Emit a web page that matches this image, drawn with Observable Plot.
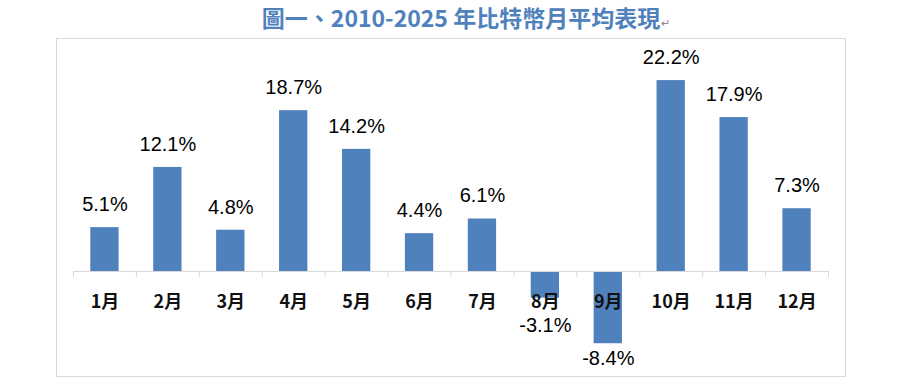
<!DOCTYPE html>
<html>
<head>
<meta charset="utf-8">
<script src="https://cdn.jsdelivr.net/npm/d3@7"></script>
<script src="https://cdn.jsdelivr.net/npm/@observablehq/plot@0.6"></script>
<style>
  html, body { margin: 0; padding: 0; background: #fff; }
  #wrap { position: relative; width: 900px; height: 382px; overflow: hidden; }
  #title { position: absolute; left: 0; top: 3px; width: 868px; padding-left: 32px; text-align: center;
    font-family: "Noto Sans CJK TC", "Liberation Sans", sans-serif; font-weight: bold;
    font-size: 23px; line-height: 28px; color: #4f81bd; white-space: nowrap; }
  #title .ret { font-size: 11px; color: #8a8a8a; font-weight: normal; margin-left: 1px; }
  #frame { position: absolute; left: 56px; top: 38px; width: 788px; height: 337px;
    border: 1px solid #d9d9d9; }
  #chart { position: absolute; left: 0; top: 0; }
</style>
</head>
<body>
<div id="wrap">
  <div id="frame"></div>
  <div id="chart"></div>
  <div id="title">圖一、2010-2025 年比特幣月平均表現<span class="ret">↵</span></div>
</div>
<script>
const months = ["1月","2月","3月","4月","5月","6月","7月","8月","9月","10月","11月","12月"];
const values = [5.1, 12.1, 4.8, 18.7, 14.2, 4.4, 6.1, -3.1, -8.4, 22.2, 17.9, 7.3];
const labels = ["5.1%","12.1%","4.8%","18.7%","14.2%","4.4%","6.1%","-3.1%","-8.4%","22.2%","17.9%","7.3%"];

const data = months.map((m, i) => ({month: m, value: values[i], label: labels[i]}));
const barColor = "#4f81bd";
const gridColor = "#d9d9d9";
const labelFont = "'Liberation Sans Narrow', 'Liberation Sans', sans-serif";
const halfStep = (900 - 73 - 72) / months.length / 2;

const chart = Plot.plot({
  width: 900,
  height: 382,
  marginLeft: 73,
  marginRight: 72,
  marginTop: 56,
  marginBottom: 25,
  x: {domain: months, paddingInner: 0.55, paddingOuter: 0.275, round: false, axis: null},
  y: {domain: [-10, 25], axis: null},
  style: {background: "transparent", overflow: "visible"},
  marks: [
    Plot.barY(data, {x: "month", y: "value", fill: barColor}),
    Plot.ruleY([0], {stroke: gridColor, strokeWidth: 1}),
    Plot.ruleX(months, {x: d => d, dx: -halfStep, y1: 0, y2: -0.7, stroke: gridColor}),
    Plot.ruleX(months.slice(-1), {x: d => d, dx: halfStep, y1: 0, y2: -0.7, stroke: gridColor}),
    Plot.text(data, {x: "month", y: () => 0, text: "month", dy: 31,
      fontSize: 18, fontWeight: "bold", fill: "#111",
      fontFamily: "'Noto Sans CJK TC', sans-serif"}),
    Plot.text(data.filter(d => d.value >= 0), {x: "month", y: "value", text: "label", dy: -23,
      fontSize: 20, fill: "#000", fontFamily: labelFont}),
    Plot.text(data.filter(d => d.value < 0 && d.value > -5), {x: "month", y: "value", text: "label", dy: 27,
      fontSize: 20, fill: "#000", fontFamily: labelFont}),
    Plot.text(data.filter(d => d.value <= -5), {x: "month", y: "value", text: "label", dy: 15,
      fontSize: 20, fill: "#000", fontFamily: labelFont})
  ]
});
document.getElementById("chart").appendChild(chart);
</script>
</body>
</html>
